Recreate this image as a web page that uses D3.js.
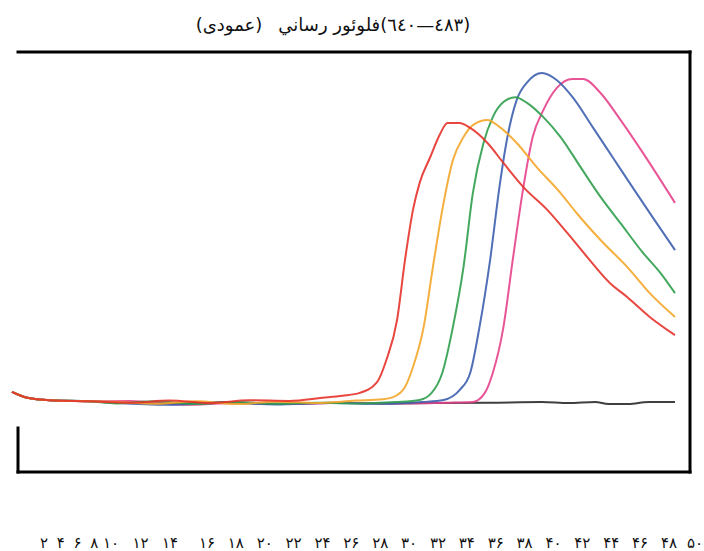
<!DOCTYPE html>
<meta charset="utf-8">
<head>
  <title>fluorescence curves</title>
  <style>
    body { margin: 0; background: #fff; }
    svg { display: block; }
  </style>
</head>
<body>
  <script src="https://cdn.jsdelivr.net/npm/d3@7/dist/d3.min.js"></script>
  <div id="chart"></div>
  <script>

    // [cycle, fluorescence]
    var blackSeries = [[0.15,2.9],[1.3,1.2],[3,0.5],[6,0.2],[8,0],[12,-0.4],[16,-0.1],[20,-0.5],[24,-0.2],[28,-0.4],[32,-0.3],[36,-0.2],[40,0],[42,-0.3],[44,0],[45,-0.6],[46.5,-0.6],[48,0],[50,0]];
    var redSeries = [[0.15,2.9],[1.3,1.2],[3,0.5],[6,0.2],[9,-0.2],[12,0.4],[15,-0.3],[18,0.5],[21,0.3],[23.5,1.2],[25,1.8],[26.3,2.6],[27.6,5.7],[28.3,12],[29.1,23.4],[29.7,40.6],[30.3,54.9],[30.8,62.6],[31.6,70],[32.3,76.3],[32.9,79.7],[33.8,79.7],[34.6,78.3],[35.9,74],[37.1,68.3],[38.6,61.4],[40.4,54.9],[41.9,48.3],[43.4,41.4],[45.1,34],[46.4,30],[48.1,24.3],[50,19.1]];
    var orangeSeries = [[0.15,2.9],[1.3,1.2],[3,0.5],[6,0.2],[8,0],[11,-0.5],[14,0.2],[17,-0.6],[20,0.1],[23,-0.3],[26,0.4],[28,0.8],[28.8,1.4],[29.7,4.3],[30.3,10],[31.1,21.4],[31.8,38.6],[32.6,56.9],[33.3,69.1],[34.1,75.7],[34.8,79.1],[35.9,80.6],[36.8,78.6],[38.1,74],[39.6,67.1],[41.4,59.7],[42.6,54],[44.4,46.3],[46.4,38.6],[48.1,31.1],[50,24.3]];
    var greenSeries = [[0.15,2.9],[1.3,1.2],[3,0.5],[6,0.2],[8,-0.4],[11,0.2],[14,-0.6],[17,0],[20,-0.5],[23,-0.2],[26,-0.4],[29,0],[30.8,0.6],[31.7,2.6],[32.5,8.3],[33.3,21.4],[34.1,38.6],[34.8,59.7],[35.6,74],[36.3,81.4],[37.1,85.7],[38,87.1],[38.9,85.4],[40.1,81.4],[41.4,75.7],[42.9,67.1],[44.4,58.6],[45.9,51.1],[47.6,42.6],[48.9,36.9],[50,31.1]];
    var blueSeries = [[0.15,2.9],[1.3,1.2],[3,0.5],[6,0.2],[8,-0.3],[12,-0.8],[16,-0.2],[20,-0.7],[24,-0.3],[28,-0.5],[31,0],[32.6,0.6],[33.8,3.4],[34.6,8.3],[35.3,21.4],[36.1,40.6],[36.8,61.4],[37.4,75.7],[38.1,86.3],[38.9,91.4],[40,94],[41.1,92],[42.3,87.1],[43.8,78.6],[45.3,70],[46.8,61.4],[48.3,52.9],[50,43.4]];
    var pinkSeries = [[0.15,2.9],[1.3,1.2],[3,0.5],[6,0.2],[9,0.3],[13,-0.8],[17,-0.3],[21,-0.6],[25,-0.2],[29,-0.4],[33,-0.2],[34.8,0],[35.7,2.6],[36.3,8.3],[37.1,21.4],[37.8,40.6],[38.6,61.4],[39.3,75.7],[40.1,83.4],[41.1,89.7],[42.3,92.3],[43.1,92.3],[44.4,88.3],[45.9,80.6],[47.6,71.1],[50,56.9]];

    var seriesNames = ['black', 'pink', 'blue', 'green', 'orange', 'red'];
    var seriesColors = ['#2a2a2a', '#e6428c', '#3d5fae', '#2f9e4c', '#f4a62a', '#e5322b'];

    var tickValues = [2,4,6,8,10,12,14,16,18,20,22,24,26,28,30,32,34,36,38,40,42,44,46,48,50];
    var tickLabels = ['۲','۴','۶','۸','۱۰','۱۲','۱۴','۱۶','۱۸','۲۰','۲۲','۲۴','۲۶','۲۸','۳۰','۳۲','۳۴','۳۶','۳۸','۴۰','۴۲','۴۴','۴۶','۴۸','۵۰'];

    var titleParts = ['(عمودی)', 'فلوئور رساني', '(٦٤٠—٤٨٣)'];

    var width = 704;
    var height = 551;

    var svg = d3.select('#chart')
      .append('svg')
      .attr('width', width)
      .attr('height', height);

    var x = d3.scaleLinear().domain([0, 50]).range([10, 675]);
    var y = d3.scaleLinear().domain([0, 100]).range([402, 52]);

    // label row under the frame is laid out unevenly, like in the source
    var tickX = d3.scaleLinear()
      .domain([2, 10, 14, 16, 48, 50])
      .range([44, 111, 170, 207, 669, 697]);

    var line = d3.line()
      .x(function(d) { return x(d[0]); })
      .y(function(d) { return y(d[1]); })
      .curve(d3.curveMonotoneX);

    var allSeries = [blackSeries, pinkSeries, blueSeries, greenSeries, orangeSeries, redSeries];

    svg.append('g')
      .selectAll('path')
      .data(allSeries)
      .enter()
      .append('path')
      .attr('class', function(d, i) { return 'curve ' + seriesNames[i]; })
      .attr('d', line)
      .attr('fill', 'none')
      .attr('stroke', function(d, i) { return seriesColors[i]; })
      .attr('stroke-width', 2)
      .attr('stroke-linejoin', 'round')
      .attr('opacity', 0.9);

    // frame (left side is only a short stub)
    var frame = svg.append('g')
      .attr('stroke', '#000')
      .attr('stroke-width', 3)
      .attr('stroke-linecap', 'square');
    frame.append('line').attr('x1', 18).attr('y1', 52).attr('x2', 690).attr('y2', 52);
    frame.append('line').attr('x1', 690).attr('y1', 52).attr('x2', 690).attr('y2', 472);
    frame.append('line').attr('x1', 18).attr('y1', 472).attr('x2', 690).attr('y2', 472);
    frame.append('line').attr('x1', 18).attr('y1', 428).attr('x2', 18).attr('y2', 472);

    svg.append('g')
      .selectAll('text')
      .data(tickValues)
      .enter()
      .append('text')
      .attr('x', function(d, i) { return i === tickValues.length - 1 ? 703 : tickX(d); })
      .attr('y', 548)
      .attr('text-anchor', function(d, i) { return i === tickValues.length - 1 ? 'end' : 'middle'; })
      .attr('direction', 'ltr')
      .style('font-family', '"DejaVu Sans", sans-serif')
      .style('font-size', '15px')
      .attr('fill', '#111')
      .text(function(d, i) { return tickLabels[i]; });

    // title pieces placed side by side, centred
    var title = svg.append('g');
    var pieces = title.selectAll('text')
      .data(titleParts)
      .enter()
      .append('text')
      .attr('y', 31)
      .attr('text-anchor', 'middle')
      .style('font-family', '"DejaVu Sans", sans-serif')
      .style('font-size', '18px')
      .attr('fill', '#111')
      .text(function(d) { return d; });

    // the number piece keeps its written order
    pieces.filter(function(d, i) { return i === 2; })
      .attr('direction', 'ltr')
      .attr('unicode-bidi', 'bidi-override');

    var gaps = [16, 0, 0];
    var widths = [];
    pieces.each(function() { widths.push(this.getComputedTextLength()); });
    var total = d3.sum(widths) + gaps[0] + gaps[1];
    var left = 333 - total / 2;
    pieces.attr('x', function(d, i) {
      var pos = left;
      for (var k = 0; k < i; k++) pos += widths[k] + gaps[k];
      return pos + widths[i] / 2;
    });

  </script>
</body>
